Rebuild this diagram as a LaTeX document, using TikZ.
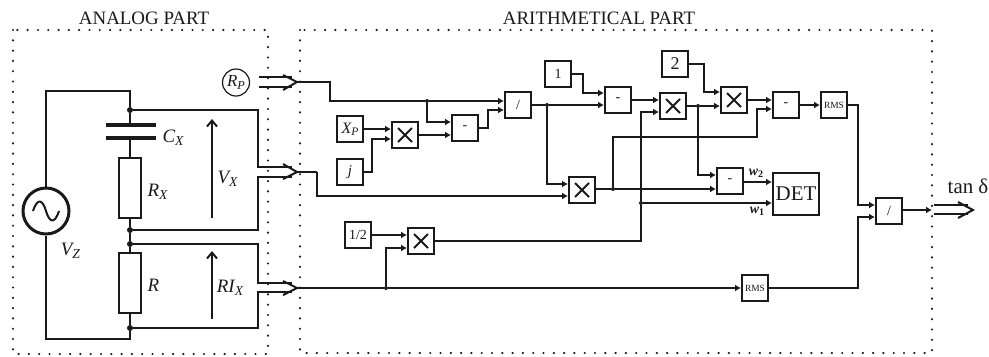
\documentclass[tikz,border=0pt]{standalone}
\usepackage{fontspec}
\setmainfont{Liberation Serif}
\usetikzlibrary{arrows.meta}
\definecolor{ink}{HTML}{1A1A1A}
\tikzset{
  x=1bp,y=-1bp,
  wire/.style={draw=ink,line width=2bp},
  flow/.style={wire,-{Latex[length=6bp,width=7bp]}},
  dotbox/.style={draw=ink,line width=2.4bp,line cap=round,dash pattern=on 0bp off 10.3bp},
  blk/.style={draw=ink,line width=2bp,fill=white,minimum width=26bp,minimum height=26bp,inner sep=0pt,text=ink,font=\fontsize{14}{14}\selectfont},
  comp/.style={draw=ink,line width=2bp,fill=white,minimum width=22bp,minimum height=60bp,inner sep=0pt},
  jn/.style={circle,fill=ink,inner sep=0pt,minimum size=6bp},
  smalljn/.style={circle,fill=ink,inner sep=0pt,minimum size=4bp},
  lab/.style={text=ink,inner sep=0pt,font=\fontsize{19}{19}\selectfont\itshape},
  head/.style={text=ink,inner sep=0pt,font=\fontsize{19}{19}\selectfont},
  chev/.style={draw=ink,line width=2bp,line join=miter},
}
\newcommand{\subv}[2]{#1\raisebox{-0.3ex}{\fontsize{0.72em}{1em}\selectfont #2}}
\newcommand{\mulsign}[1]{\draw[draw=ink,line width=2bp] ([shift={(-7,-7)}]#1.center) -- ([shift={(7,7)}]#1.center) ([shift={(-7,7)}]#1.center) -- ([shift={(7,-7)}]#1.center);}
\begin{document}
\begin{tikzpicture}
\useasboundingbox (0,0) rectangle (989,356);
\fill[white] (0,0) rectangle (989,356);
% dotted frames
\draw[dotbox] (13,30) rectangle (268,354);
\draw[dotbox] (300,30) rectangle (932,353);
\node[head] at (144,18.5) {ANALOG PART};
\node[head] at (599,18) {ARITHMETICAL PART};

% analog part
\node[draw=ink,line width=3bp,circle,minimum size=46bp,inner sep=0pt,fill=white] (src) at (46,211) {};
\draw[draw=ink,line width=2bp] (33,211) .. controls (38,196) and (43,201) .. (46,211) .. controls (49,221) and (54,226) .. (59,211);
\coordinate (tl) at (46,91);
\coordinate (tr) at (130,91);
\coordinate (bl) at (46,339);
\coordinate (br) at (130,339);
\node[jn] (j1) at (130,110) {};
\node[jn] (j2) at (130,230) {};
\node[jn] (j3) at (130,244) {};
\node[jn] (j4) at (130,328) {};
\coordinate (capT) at (130,125);
\coordinate (capB) at (130,138);
\node[comp] (rx) at (130,188) {};
\node[comp] (r) at (130,283) {};
\draw[wire] (src.north) -- (tl) -- (tr) -- (j1) -- (capT);
\draw[wire] (capB) -- (rx.north);
\draw[wire] (rx.south) -- (j2) -- (j3) -- (r.north);
\draw[wire] (r.south) -- (j4) -- (br) -- (bl) -- (src.south);
\draw[draw=ink,line width=4bp] (106,125) -- (156,125) (106,138) -- (156,138);
\node[lab] at (173,138) {\subv{C}{X}};
\node[lab] at (157.5,192) {\subv{R}{X}};
\node[lab] at (153.5,285) {R};
\node[lab] at (70.5,251) {\subv{V}{Z}};
\node[lab] at (227.5,179) {\subv{V}{X}};
\node[lab] at (230,288) {\subv{RI}{X}};
\coordinate (vb) at (212,218);
\coordinate (vt) at (212,119);
\coordinate (ib) at (212,319);
\coordinate (it) at (212,251);
\draw[draw=ink,line width=2bp,-{Straight Barb[length=6bp,width=10bp]}] (vb) -- (vt);
\draw[draw=ink,line width=2bp,-{Straight Barb[length=6bp,width=10bp]}] (ib) -- (it);

\node[draw=ink,line width=1.2bp,circle,minimum size=27bp,inner sep=0pt,text=ink,font=\fontsize{17}{17}\selectfont\itshape] (rp) at (236,82.5) {\subv{R}{P}};

% double arrows
\coordinate (pT) at (297,82);
\coordinate (vT) at (297,172);
\coordinate (iT) at (297,288);
\draw[wire] (259,77) -- (292,77) (259,87) -- (292,87);
\draw[chev] (283,75) -- (pT) -- (283,90);
\draw[wire] (j1) -- (258,110) -- (258,167) -- (292,167);
\draw[wire] (j2) -- (258,230) -- (258,177) -- (292,177);
\draw[chev] (283,164) -- (vT) -- (283,179);
\draw[wire] (j3) -- (258,244) -- (258,283) -- (292,283);
\draw[wire] (j4) -- (258,328) -- (258,292) -- (292,292);
\draw[chev] (283,281) -- (iT) -- (283,295);

% arithmetical blocks
\node[blk,font=\fontsize{16}{16}\selectfont\itshape] (xp) at (350,129) {\subv{X}{P}};
\node[blk,font=\fontsize{15}{15}\selectfont\itshape] (jj) at (350,172) {j};
\node[blk] (m1) at (405,135) {};
\node[blk] (s1) at (465,128) {-};
\node[blk] (d1) at (518,105) {/};
\node[blk] (one) at (558,74) {1};
\node[blk] (m2) at (582,190) {};
\node[blk] (s2) at (618,100) {-};
\node[blk] (m3) at (673,106) {};
\node[blk] (two) at (675,64) {\fontsize{18}{18}\selectfont 2};
\node[blk] (m4) at (734,100) {};
\node[blk] (s4) at (786,105) {-};
\node[blk] (rms1) at (834,105) {\fontsize{9.5}{9.5}\selectfont RMS};
\node[blk] (d2) at (889,211) {/};
\node[blk] (s3) at (730,181) {-};
\node[blk,minimum width=46bp,minimum height=42bp,font=\fontsize{21}{21}\selectfont] (det) at (796,194) {DET};
\node[blk] (half) at (358,235) {1/2};
\node[blk] (m5) at (421,241) {};
\node[blk] (rms2) at (755,288) {\fontsize{9.5}{9.5}\selectfont RMS};
\mulsign{m1}\mulsign{m2}\mulsign{m3}\mulsign{m4}\mulsign{m5}

% junction points
\node[smalljn] (a1) at (427,101) {};
\node[smalljn] (a2) at (547,105) {};
\node[smalljn] (a3) at (698,106) {};
\node[smalljn] (a4) at (613,189) {};
\node[smalljn] (a5) at (641,203) {};
\node[smalljn] (a6) at (386,288) {};
\coordinate (pOut) at (300,82);
\coordinate (vOut) at (300,172);
\coordinate (iOut) at (300,288);
\coordinate (outEnd) at (932,210);

% connectors
\draw[wire] (pT) -- (pOut) -- (330,82) -- (330,101) -- (a1);
\draw[flow] (a1) -- (d1.west |- a1);
\draw[flow] (a1) |- (s1.west |- 0,122);
\draw[flow] (xp.east) -- (m1.west |- xp.east);
\draw[flow] (jj.east) -- (372,172) -- (372,139) -- (m1.west |- 0,139);
\draw[flow] (m1.east) -- (s1.west |- m1.east);
\draw[flow] (s1.east) -- (488,128) -- (488,110) -- (d1.west |- 0,110);
\draw[wire] (d1.east) -- (a2);
\draw[flow] (a2) -- (s2.west |- 0,105);
\draw[flow] (a2) |- (m2.west |- 0,184);
\draw[wire] (vT) -- (vOut) -- (317,172);
\draw[flow] (317,172) -- (317,196) -- (m2.west |- 0,196);
\draw[flow] (one.east) -- (583,74) -- (583,93) -- (s2.west |- 0,93);
\draw[flow] (s2.east) -- (m3.west |- s2.east);
\draw[wire] (m3.east) -- (a3);
\draw[flow] (a3) -- (m4.west |- a3);
\draw[flow] (a3) |- (s3.west |- 0,175);
\draw[flow] (two.east) -- (704,64) -- (704,92) -- (m4.west |- 0,92);
\draw[flow] (m4.east) -- (s4.west |- m4.east);
\draw[flow] (s4.east) -- (rms1.west);
\draw[flow] (rms1.east) -- (858,105) -- (858,205) -- (d2.west |- 0,205);
\draw[wire] (m2.east |- a4) -- (a4);
\draw[flow] (a4) -- (s3.west |- a4);
\draw[flow] (a4) -- (613,137) -- (757,137) -- (757,109) -- (s4.west |- 0,109);
\draw[flow] (s3.east |- 0,182) -- (det.west |- 0,182);
\draw[wire] (m5.east) -- (641,241) -- (a5);
\draw[flow] (a5) -- (641,112) -- (m3.west |- 0,112);
\draw[flow] (a5) -- (det.west |- a5);
\draw[flow] (half.east) -- (m5.west |- half.east);
\draw[flow] (a6) -- (386,248) -- (m5.west |- 0,248);
\draw[wire] (iT) -- (iOut) -- (a6);
\draw[flow] (a6) -- (rms2.west);
\draw[flow] (rms2.east) -- (858,288) -- (858,217) -- (d2.west |- 0,217);
\draw[flow] (d2.east |- outEnd) -- (outEnd);

% output arrow
\coordinate (bigT) at (973,210);
\draw[wire] (934,205) -- (968,205) (934,214) -- (968,214);
\draw[chev] (958,202) -- (bigT) -- (958,218);
\node[text=ink,inner sep=0pt,font=\fontsize{21}{21}\selectfont] at (968,186) {tan δ};
\node[text=ink,inner sep=0pt,font=\fontsize{14}{14}\selectfont\bfseries\itshape] at (756,173) {\subv{w}{\upshape 2}};
\node[text=ink,inner sep=0pt,font=\fontsize{14}{14}\selectfont\bfseries\itshape] at (757,211) {\subv{w}{\upshape 1}};
\end{tikzpicture}
\end{document}
